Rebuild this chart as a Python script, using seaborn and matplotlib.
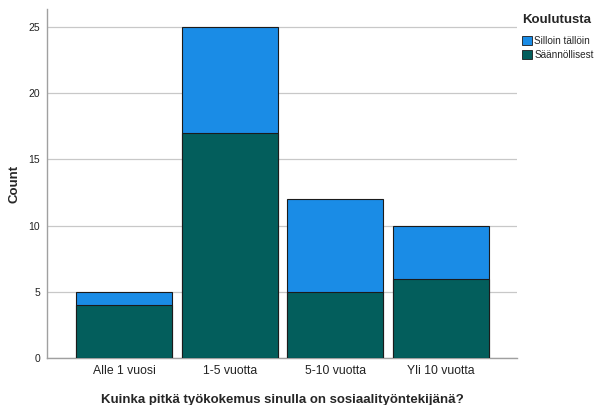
import pandas as pd
import matplotlib.pyplot as plt
import seaborn as sns
from matplotlib.patches import Patch

# data
categories = ['Alle 1 vuosi', '1-5 vuotta', '5-10 vuotta', 'Yli 10 vuotta']
saannollisest = [4, 17, 5, 6]
silloin_talloin = [1, 8, 7, 4]

totals = [a + b for a, b in zip(saannollisest, silloin_talloin)]
df = pd.DataFrame({'cat': categories, 'low': saannollisest, 'total': totals})

blue = '#1a8ce6'
teal = '#035e5c'

sns.set_style('white')
plt.rcParams['font.family'] = ['Liberation Sans', 'DejaVu Sans']

fig = plt.figure(figsize=(5.96, 4.05), dpi=100)
ax = fig.add_axes([0.079, 0.116, 0.788, 0.862])

sns.barplot(data=df, x='cat', y='total', color=blue, width=0.91,
            edgecolor='#1b1b1b', linewidth=0.8, saturation=1, ax=ax, zorder=3)
sns.barplot(data=df, x='cat', y='low', color=teal, width=0.91,
            edgecolor='#1b1b1b', linewidth=0.8, saturation=1, ax=ax, zorder=4)

ax.set_xlim(-0.73, 3.72)
ax.set_ylim(0, 26.36)
ax.set_yticks([0, 5, 10, 15, 20, 25])
ax.yaxis.grid(True, color='#c8c8c8', linewidth=0.9, zorder=0)
ax.set_axisbelow(True)

for s in ['top', 'right']:
    ax.spines[s].set_visible(False)
for s in ['left', 'bottom']:
    ax.spines[s].set_color('#a0a0a0')
    ax.spines[s].set_linewidth(1.0)

ax.tick_params(axis='both', length=0, colors='#222222')
ax.tick_params(axis='x', labelsize=8.8, pad=5)
ax.tick_params(axis='y', labelsize=7.5, pad=5)
ax.set_xlabel('Kuinka pitkä työkokemus sinulla on sosiaalityöntekijänä?',
              fontsize=9.5, fontweight='bold', labelpad=12)
ax.set_ylabel('Count', fontsize=9.5, fontweight='bold', labelpad=6)

handles = [Patch(facecolor=blue, edgecolor='#1b1b1b', linewidth=0.6, label='Silloin tällöin'),
           Patch(facecolor=teal, edgecolor='#1b1b1b', linewidth=0.6, label='Säännöllisest')]
leg = fig.legend(handles=handles, title='Koulutusta', loc='upper left',
                 bbox_to_anchor=(0.876, 0.965), frameon=False, fontsize=7.2,
                 title_fontproperties={'weight': 'bold', 'size': 9.5},
                 handlelength=1.0, handleheight=1.0, handletextpad=0.2,
                 labelspacing=0.4, borderaxespad=0, borderpad=0)
leg._legend_box.align = 'left'
leg._legend_box.sep = 7

fig.savefig('out.png', dpi=100)
